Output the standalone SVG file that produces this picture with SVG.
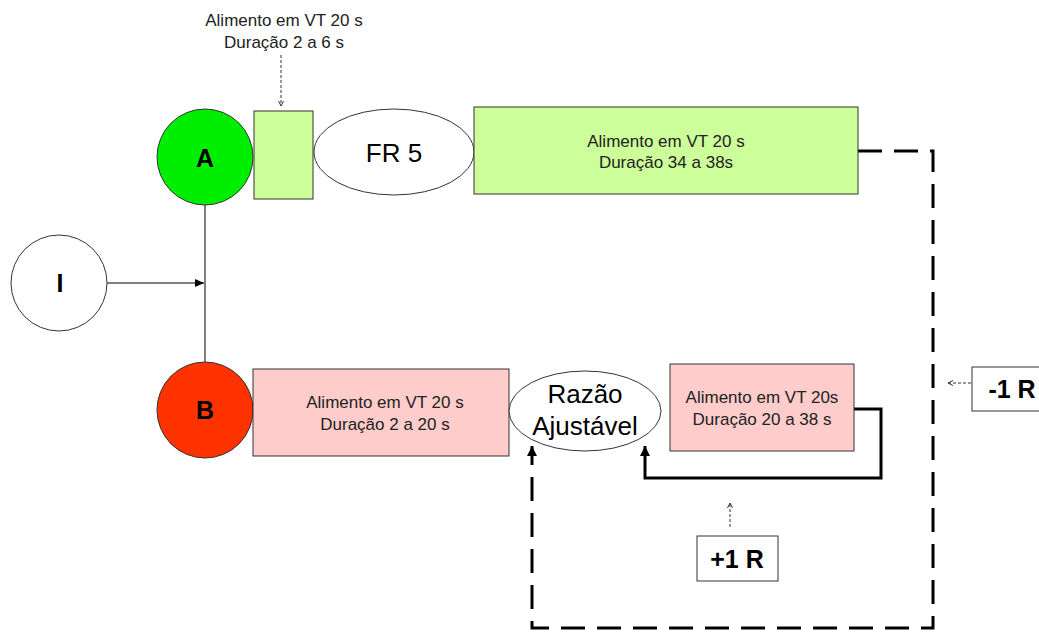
<svg xmlns="http://www.w3.org/2000/svg" width="1039" height="633" viewBox="0 0 1039 633">
<style>
.t{font-family:"Liberation Sans",Arial,sans-serif;font-size:17px;fill:#222;text-anchor:middle}
.b{font-family:"Liberation Sans",Arial,sans-serif;font-size:25px;font-weight:bold;fill:#000;text-anchor:middle}
.l{font-family:"Liberation Sans",Arial,sans-serif;font-size:26px;fill:#000;text-anchor:middle}
.sh{stroke:#333;stroke-width:1}
.thin{fill:none;stroke:#000;stroke-width:1}
.dot{fill:none;stroke:#333;stroke-width:1;stroke-dasharray:3,2}
.dash{fill:none;stroke:#000;stroke-width:3;stroke-dasharray:24,12}
.solid{fill:none;stroke:#000;stroke-width:3}
</style>
<defs>
<marker id="ah" markerWidth="10" markerHeight="10" refX="9" refY="5" orient="auto" markerUnits="userSpaceOnUse"><path d="M0,1 L9,5 L0,9 Z" fill="#000"/></marker>
<marker id="ahb" markerWidth="12" markerHeight="12" refX="10" refY="6" orient="auto" markerUnits="userSpaceOnUse"><path d="M0,1 L10,6 L0,11 Z" fill="#000"/></marker>
<marker id="ahs" markerWidth="6" markerHeight="6" refX="5" refY="3" orient="auto" markerUnits="userSpaceOnUse"><path d="M0,0.5 L5,3 L0,5.5" fill="none" stroke="#333" stroke-width="1"/></marker>
</defs>
<g id="connectors">
<line class="thin" x1="205" y1="205" x2="205" y2="362"/>
<line class="thin" x1="107" y1="283" x2="204" y2="283" marker-end="url(#ah)"/>
<path class="dash" d="M858,151 H933 V628 H532 V446" marker-end="url(#ahb)"/>
<path class="solid" d="M854,409 H881 V478 H645 V446" marker-end="url(#ahb)"/>
<line class="dot" x1="281" y1="55" x2="281" y2="106" marker-end="url(#ahs)"/>
<line class="dot" x1="730" y1="527" x2="730" y2="503" marker-end="url(#ahs)"/>
<line class="dot" x1="971" y1="383" x2="948" y2="383" marker-end="url(#ahs)"/>
</g>
<g id="label-top"><text class="t" x="284" y="26">Alimento em VT 20 s</text><text class="t" x="284" y="48">Duração 2 a 6 s</text></g>
<g id="nodeA"><circle cx="205" cy="157" r="48" fill="#00ee00" class="sh"/><text class="b" x="205" y="167">A</text></g>
<g id="nodeA1"><rect x="254" y="111" width="59" height="88" fill="#ccff99" class="sh"/></g>
<g id="nodeFR5"><ellipse cx="394" cy="152" rx="80" ry="43" fill="#fff" class="sh"/><text class="l" x="394" y="162">FR 5</text></g>
<g id="nodeA2"><rect x="474" y="107" width="384" height="87" fill="#ccff99" class="sh"/><text class="t" x="666" y="147">Alimento em VT 20 s</text><text class="t" x="666" y="168">Duração 34 a 38s</text></g>
<g id="nodeI"><circle cx="59" cy="283" r="48" fill="#fff" class="sh"/><text class="b" x="60" y="292">I</text></g>
<g id="nodeB"><circle cx="205" cy="410" r="48" fill="#ff3300" class="sh"/><text class="b" x="205" y="419">B</text></g>
<g id="nodeB1"><rect x="253" y="369" width="256" height="87" fill="#ffcccc" class="sh"/><text class="t" x="385" y="408">Alimento em VT 20 s</text><text class="t" x="385" y="430">Duração 2 a 20 s</text></g>
<g id="nodeRazao"><ellipse cx="585" cy="411" rx="76" ry="40" fill="#fff" class="sh"/><text class="l" x="585" y="403">Razão</text><text class="l" x="585" y="435">Ajustável</text></g>
<g id="nodeB2"><rect x="670" y="364" width="184" height="87" fill="#ffcccc" class="sh"/><text class="t" x="762" y="403">Alimento em VT 20s</text><text class="t" x="762" y="425">Duração 20 a 38 s</text></g>
<g id="plus1R"><rect x="697" y="536" width="81" height="45" fill="#fff" class="sh"/><text class="b" x="737" y="568">+1 R</text></g>
<g id="minus1R"><rect x="972" y="367" width="80" height="44" fill="#fff" class="sh"/><text class="b" x="1012" y="398">-1 R</text></g>
</svg>
